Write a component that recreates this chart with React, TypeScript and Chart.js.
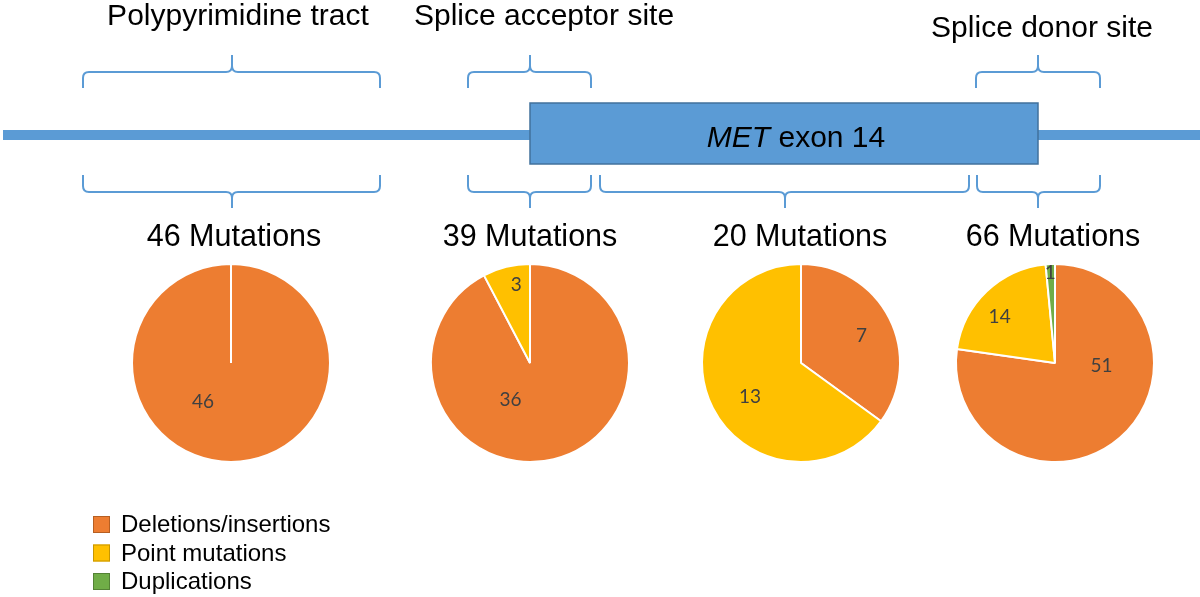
import React, { useEffect, useRef } from "react";
import { Chart, registerables } from "chart.js";

Chart.register(...registerables);

// ---------- data ----------
const categories = ["Deletions/insertions", "Point mutations", "Duplications"];
const regionTitles = ["Polypyrimidine tract", "Splice acceptor site", "Splice donor site"];
const delIns = [46, 36, 7, 51];
const pointMutations = [0, 3, 13, 14];
const duplications = [0, 0, 0, 1];
const exonLabelGene = "MET";
const exonLabelRest = " exon 14";

// ---------- style / layout ----------
const W = 1200;
const H = 597;
const sliceColors = ["#ED7D31", "#FFC000", "#70AD47"];
const legendBorders = ["#B65F22", "#C79600", "#548235"];
const blue = "#5B9BD5";
const blueDark = "#41719C";
const pieCenters = [
  [231, 363],
  [530, 363],
  [801, 363],
  [1055, 363],
];
const pieRadius = 99;
const pieBox = 220;
// label anchor per slice: [angle clockwise from top (deg), fraction of radius]
const labelAnchors: (number[] | null)[][] = [
  [[216, 0.48], null, null],
  [[208, 0.42], [350, 0.8], null],
  [[66, 0.67], [236, 0.62], null],
  [[94, 0.47], [310, 0.73], [357, 0.91]],
];
const titleLayout = [
  { x: 238, y: 25 },
  { x: 544, y: 25 },
  { x: 1042, y: 37 },
];
const countTitleX = [234, 530, 800, 1053];
const countTitleY = 246;
// braces: [x1, x2, xPeak]
const upperBraces = [
  [83, 380, 232],
  [468, 591, 530],
  [976, 1100, 1038],
];
const lowerBraces = [
  [83, 380, 232],
  [468, 591, 530],
  [600, 969, 785],
  [977, 1100, 1038],
];

function drawBrace(
  ctx: CanvasRenderingContext2D,
  sx: (v: number) => number,
  sy: (v: number) => number,
  b: number[],
  tipY: number,
  barY: number,
  peakY: number
) {
  const [x1, x2, xm] = b;
  const dir = barY < tipY ? -1 : 1;
  const r = 6;
  ctx.beginPath();
  ctx.moveTo(sx(x1), sy(tipY));
  ctx.lineTo(sx(x1), sy(barY - dir * r));
  ctx.quadraticCurveTo(sx(x1), sy(barY), sx(x1 + r), sy(barY));
  ctx.lineTo(sx(xm - r), sy(barY));
  ctx.quadraticCurveTo(sx(xm), sy(barY), sx(xm), sy(barY + dir * r));
  ctx.lineTo(sx(xm), sy(peakY));
  ctx.moveTo(sx(xm), sy(barY + dir * r));
  ctx.quadraticCurveTo(sx(xm), sy(barY), sx(xm + r), sy(barY));
  ctx.lineTo(sx(x2 - r), sy(barY));
  ctx.quadraticCurveTo(sx(x2), sy(barY), sx(x2), sy(barY - dir * r));
  ctx.lineTo(sx(x2), sy(tipY));
  ctx.stroke();
}

const schematicPlugin = {
  id: "schematic",
  afterDraw(chart: any) {
    const ctx: CanvasRenderingContext2D = chart.ctx;
    const xs = chart.scales.x;
    const ys = chart.scales.y;
    const sx = (v: number) => xs.getPixelForValue(v);
    const sy = (v: number) => ys.getPixelForValue(v);
    ctx.save();

    // intron line
    ctx.fillStyle = blue;
    ctx.fillRect(sx(3), sy(130), sx(1200) - sx(3), sy(140) - sy(130));

    // exon box
    ctx.fillStyle = blue;
    ctx.fillRect(sx(530), sy(103), sx(1038) - sx(530), sy(164) - sy(103));
    ctx.strokeStyle = blueDark;
    ctx.lineWidth = 1.5;
    ctx.strokeRect(sx(530), sy(103), sx(1038) - sx(530), sy(164) - sy(103));

    // exon label
    ctx.fillStyle = "#000";
    ctx.textBaseline = "alphabetic";
    ctx.font = "italic 30px 'Liberation Sans', Arial, sans-serif";
    const w1 = ctx.measureText(exonLabelGene).width;
    ctx.font = "30px 'Liberation Sans', Arial, sans-serif";
    const w2 = ctx.measureText(exonLabelRest).width;
    const startX = sx(796) - (w1 + w2) / 2;
    ctx.font = "italic 30px 'Liberation Sans', Arial, sans-serif";
    ctx.textAlign = "left";
    ctx.fillText(exonLabelGene, startX, sy(147));
    ctx.font = "30px 'Liberation Sans', Arial, sans-serif";
    ctx.fillText(exonLabelRest, startX + w1, sy(147));

    // region titles
    ctx.textAlign = "center";
    ctx.font = "30px 'Liberation Sans', Arial, sans-serif";
    regionTitles.forEach((t, i) => {
      ctx.fillText(t, sx(titleLayout[i].x), sy(titleLayout[i].y));
    });

    // braces
    ctx.strokeStyle = blue;
    ctx.lineWidth = 2;
    upperBraces.forEach((b) => drawBrace(ctx, sx, sy, b, 88, 72, 55));
    lowerBraces.forEach((b) => drawBrace(ctx, sx, sy, b, 175, 192, 208));

    // mutation totals
    ctx.fillStyle = "#000";
    ctx.font = "30.5px 'Liberation Sans', Arial, sans-serif";
    delIns.forEach((d, i) => {
      const total = d + pointMutations[i] + duplications[i];
      ctx.fillText(`${total} Mutations`, sx(countTitleX[i]), sy(countTitleY));
    });

    // legend
    ctx.textAlign = "left";
    ctx.textBaseline = "middle";
    ctx.font = "24px 'Liberation Sans', Arial, sans-serif";
    categories.forEach((c, i) => {
      const cy = 524.5 + i * 28.5;
      ctx.fillStyle = sliceColors[i];
      ctx.fillRect(sx(93), sy(cy - 8.5), 17, 17);
      ctx.strokeStyle = legendBorders[i];
      ctx.lineWidth = 1;
      ctx.strokeRect(sx(93) + 0.5, sy(cy - 8.5) + 0.5, 16, 16);
      ctx.fillStyle = "#000";
      ctx.fillText(c, sx(121), sy(cy + 1));
    });

    ctx.restore();
  },
};

function makeLabelPlugin(pieIndex: number) {
  return {
    id: "sliceLabels" + pieIndex,
    afterDatasetsDraw(chart: any) {
      const ctx: CanvasRenderingContext2D = chart.ctx;
      const meta = chart.getDatasetMeta(0);
      const values = chart.data.datasets[0].data as number[];
      ctx.save();
      ctx.fillStyle = "#404040";
      ctx.font = "19px Lato, 'Open Sans', sans-serif";
      ctx.textAlign = "center";
      ctx.textBaseline = "middle";
      meta.data.forEach((arc: any, j: number) => {
        const v = values[j];
        const anchor = labelAnchors[pieIndex][j];
        if (!v || !anchor) return;
        const { x, y, outerRadius } = arc.getProps(["x", "y", "outerRadius"], true);
        const a = (anchor[0] * Math.PI) / 180;
        const px = x + Math.sin(a) * anchor[1] * outerRadius;
        const py = y - Math.cos(a) * anchor[1] * outerRadius;
        ctx.fillText(String(v), px, py);
      });
      ctx.restore();
    },
  };
}

function PieCanvas({ index }: { index: number }) {
  const ref = useRef<HTMLCanvasElement | null>(null);
  useEffect(() => {
    if (!ref.current) return;
    const chart = new Chart(ref.current, {
      type: "pie",
      data: {
        labels: categories,
        datasets: [
          {
            data: [delIns[index], pointMutations[index], duplications[index]],
            backgroundColor: sliceColors,
            borderColor: "#FFFFFF",
            borderWidth: 2,
            radius: pieRadius,
          } as any,
        ],
      },
      options: {
        animation: false,
        responsive: false,
        events: [],
        layout: { padding: 0 },
        plugins: { legend: { display: false }, tooltip: { enabled: false } },
      },
      plugins: [makeLabelPlugin(index)],
    });
    return () => chart.destroy();
  }, [index]);
  const [cx, cy] = pieCenters[index];
  return (
    <canvas
      ref={ref}
      width={pieBox}
      height={pieBox}
      style={{
        position: "absolute",
        left: cx - pieBox / 2,
        top: cy - pieBox / 2,
        width: pieBox,
        height: pieBox,
      }}
    />
  );
}

export default function App() {
  const ref = useRef<HTMLCanvasElement | null>(null);
  useEffect(() => {
    if (!ref.current) return;
    const chart = new Chart(ref.current, {
      type: "scatter",
      data: { datasets: [] },
      options: {
        animation: false,
        responsive: false,
        events: [],
        layout: { padding: 0 },
        scales: {
          x: { type: "linear", min: 0, max: W, display: false },
          y: { type: "linear", min: 0, max: H, reverse: true, display: false },
        },
        plugins: { legend: { display: false }, tooltip: { enabled: false } },
      },
      plugins: [schematicPlugin],
    });
    return () => chart.destroy();
  }, []);
  return (
    <div
      style={{
        position: "fixed",
        left: 0,
        top: 0,
        width: W,
        height: H,
        background: "#FFFFFF",
        overflow: "hidden",
      }}
    >
      <canvas
        ref={ref}
        width={W}
        height={H}
        style={{ position: "absolute", left: 0, top: 0, width: W, height: H }}
      />
      {pieCenters.map((_, i) => (
        <PieCanvas key={i} index={i} />
      ))}
    </div>
  );
}
